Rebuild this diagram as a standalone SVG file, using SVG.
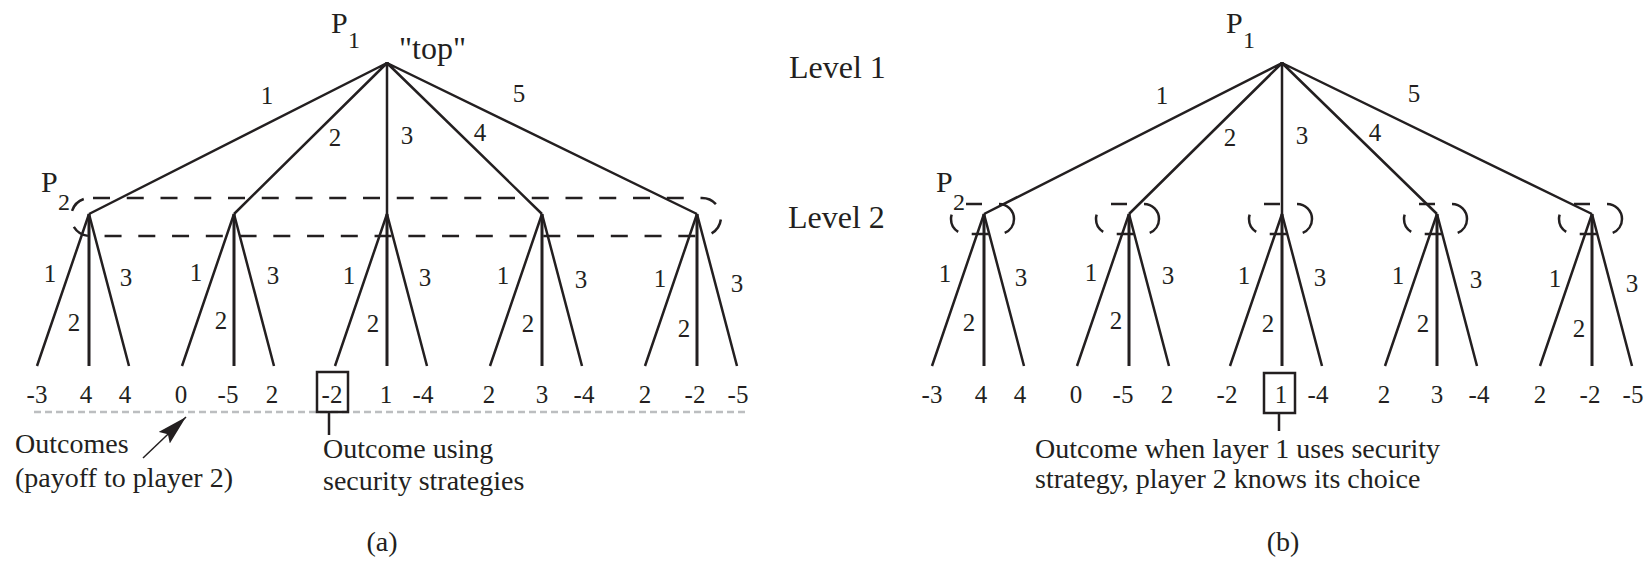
<svg xmlns="http://www.w3.org/2000/svg" xmlns:xlink="http://www.w3.org/1999/xlink" width="1650" height="561" viewBox="0 0 1650 561">
<style>
.e{stroke:#231f20;stroke-width:2.5;fill:none}
.m{stroke:#231f20;stroke-width:3;fill:none}
.t{font-family:"Liberation Serif","Times New Roman",serif;fill:#231f20}
.big{font-size:32px}
.p{font-size:30px}
.sub{font-size:24px}
.num{font-size:25px;text-anchor:middle}
.ann{font-size:28px}
.cap{font-size:28px;text-anchor:middle}
.iset{stroke:#231f20;stroke-width:2.5;fill:none;stroke-dasharray:16 17 41 16.1 17 13.9 19.7 19.5}
.box{stroke:#231f20;stroke-width:2.5;fill:none}
</style>
<defs>
<path id="is" class="iset" d="M-18,-10 H15 A15,15 0 0 1 15,20 H-18 A15,15 0 0 1 -18,-10 Z"/>
<marker id="ah" markerUnits="userSpaceOnUse" markerWidth="32" markerHeight="18" refX="30" refY="8" orient="auto" viewBox="0 0 32 18">
<path d="M0,0 L30,8 L0,16 L5,8 Z" fill="#231f20"/>
</marker>
</defs>

<!-- ================= Panel (a) ================= -->
<g id="a-root">
<text class="t p" x="331" y="33">P</text>
<text class="t sub" x="348" y="48">1</text>
<text class="t big" x="399" y="59">"top"</text>
</g>
<g id="a-infoset">
<text class="t p" x="41" y="192">P</text>
<text class="t sub" x="58" y="210">2</text>
<rect x="71" y="198" width="650" height="38" rx="19" ry="19" class="e" stroke-dasharray="17 16.75" stroke-dashoffset="30.75"/>
</g>
<g id="a-n1"><circle cx="89" cy="214" r="0.1" fill="#231f20"/></g>
<g id="a-n2"><circle cx="234" cy="214" r="0.1" fill="#231f20"/></g>
<g id="a-n3"><circle cx="387" cy="214" r="0.1" fill="#231f20"/></g>
<g id="a-n4"><circle cx="542" cy="214" r="0.1" fill="#231f20"/></g>
<g id="a-n5"><circle cx="697" cy="214" r="0.1" fill="#231f20"/></g>

<g id="a-connectors">
<path class="e" d="M387,63 L89,214 M387,63 L234,214 M387,63 L387,214 M387,63 L542,214 M387,63 L697,214"/>
<text class="t num" x="267" y="104">1</text>
<text class="t num" x="335" y="146">2</text>
<text class="t num" x="407" y="144">3</text>
<text class="t num" x="480" y="141">4</text>
<text class="t num" x="519" y="102">5</text>
<path class="e" d="M89,214 L37,366 M89,214 L129,366 M234,214 L182,366 M234,214 L274,366 M387,214 L335,366 M387,214 L427,366 M542,214 L490,366 M542,214 L582,366 M697,214 L645,366 M697,214 L737,366"/>
<path class="m" d="M89,214 V366 M234,214 V366 M387,214 V366 M542,214 V366 M697,214 V366"/>
<g class="t num">
<text x="50" y="282">1</text><text x="74" y="331">2</text><text x="126" y="286">3</text>
<text x="196" y="281">1</text><text x="221" y="329">2</text><text x="273" y="284">3</text>
<text x="349" y="284">1</text><text x="373" y="332">2</text><text x="425" y="286">3</text>
<text x="503" y="284">1</text><text x="528" y="332">2</text><text x="581" y="288">3</text>
<text x="660" y="287">1</text><text x="684" y="337">2</text><text x="737" y="292">3</text>
</g>
</g>

<g id="a-outcomes" class="t num">
<text x="37" y="403">-3</text><text x="86" y="403">4</text><text x="125" y="403">4</text>
<text x="181" y="403">0</text><text x="228" y="403">-5</text><text x="272" y="403">2</text>
<text x="332" y="403">-2</text><text x="386" y="403">1</text><text x="423" y="403">-4</text>
<text x="489" y="403">2</text><text x="542" y="403">3</text><text x="584" y="403">-4</text>
<text x="645" y="403">2</text><text x="695" y="403">-2</text><text x="738" y="403">-5</text>
</g>
<line x1="34" y1="412" x2="748" y2="412" stroke="#bcbec0" stroke-width="2.5" stroke-dasharray="7 4"/>
<g id="a-security">
<rect class="box" x="317" y="372" width="31" height="40"/>
<line class="e" x1="329" y1="412" x2="329" y2="435"/>
<text class="t ann" x="323" y="458">Outcome using</text>
<text class="t ann" x="323" y="490">security strategies</text>
</g>
<g id="a-outcomes-note">
<line x1="143" y1="458" x2="186" y2="417" stroke="#231f20" stroke-width="1.5" marker-end="url(#ah)"/>
<text class="t ann" x="15" y="453">Outcomes</text>
<text class="t ann" x="15" y="487">(payoff to player 2)</text>
</g>
<text class="t cap" x="382" y="551">(a)</text>

<!-- Level labels -->
<g id="levels">
<text class="t big" x="789" y="78">Level 1</text>
<text class="t big" x="788" y="228">Level 2</text>
</g>

<!-- ================= Panel (b) ================= -->
<g id="b-root">
<text class="t p" x="1226" y="33">P</text>
<text class="t sub" x="1243" y="48">1</text>
</g>
<g id="b-n1">
<text class="t p" x="936" y="192">P</text>
<text class="t sub" x="953" y="210">2</text>
<use xlink:href="#is" href="#is" x="984" y="214"/>
</g>
<g id="b-n2"><use xlink:href="#is" href="#is" x="1129" y="214"/></g>
<g id="b-n3"><use xlink:href="#is" href="#is" x="1282" y="214"/></g>
<g id="b-n4"><use xlink:href="#is" href="#is" x="1437" y="214"/></g>
<g id="b-n5"><use xlink:href="#is" href="#is" x="1592" y="214"/></g>

<g id="b-connectors">
<path class="e" d="M1282,63 L984,214 M1282,63 L1129,214 M1282,63 L1282,214 M1282,63 L1437,214 M1282,63 L1592,214"/>
<text class="t num" x="1162" y="104">1</text>
<text class="t num" x="1230" y="146">2</text>
<text class="t num" x="1302" y="144">3</text>
<text class="t num" x="1375" y="141">4</text>
<text class="t num" x="1414" y="102">5</text>
<path class="e" d="M984,214 L932,366 M984,214 L1024,366 M1129,214 L1077,366 M1129,214 L1169,366 M1282,214 L1230,366 M1282,214 L1322,366 M1437,214 L1385,366 M1437,214 L1477,366 M1592,214 L1540,366 M1592,214 L1632,366"/>
<path class="m" d="M984,214 V366 M1129,214 V366 M1282,214 V366 M1437,214 V366 M1592,214 V366"/>
<g class="t num">
<text x="945" y="282">1</text><text x="969" y="331">2</text><text x="1021" y="286">3</text>
<text x="1091" y="281">1</text><text x="1116" y="329">2</text><text x="1168" y="284">3</text>
<text x="1244" y="284">1</text><text x="1268" y="332">2</text><text x="1320" y="286">3</text>
<text x="1398" y="284">1</text><text x="1423" y="332">2</text><text x="1476" y="288">3</text>
<text x="1555" y="287">1</text><text x="1579" y="337">2</text><text x="1632" y="292">3</text>
</g>
</g>

<g id="b-outcomes" class="t num">
<text x="932" y="403">-3</text><text x="981" y="403">4</text><text x="1020" y="403">4</text>
<text x="1076" y="403">0</text><text x="1123" y="403">-5</text><text x="1167" y="403">2</text>
<text x="1227" y="403">-2</text><text x="1281" y="403">1</text><text x="1318" y="403">-4</text>
<text x="1384" y="403">2</text><text x="1437" y="403">3</text><text x="1479" y="403">-4</text>
<text x="1540" y="403">2</text><text x="1590" y="403">-2</text><text x="1633" y="403">-5</text>
</g>
<g id="b-security">
<rect class="box" x="1264" y="373" width="31" height="40"/>
<line class="e" x1="1279" y1="413" x2="1279" y2="431"/>
<text class="t ann" x="1035" y="458">Outcome when layer 1 uses security</text>
<text class="t ann" x="1035" y="488">strategy, player 2 knows its choice</text>
</g>
<text class="t cap" x="1283" y="551">(b)</text>
</svg>
